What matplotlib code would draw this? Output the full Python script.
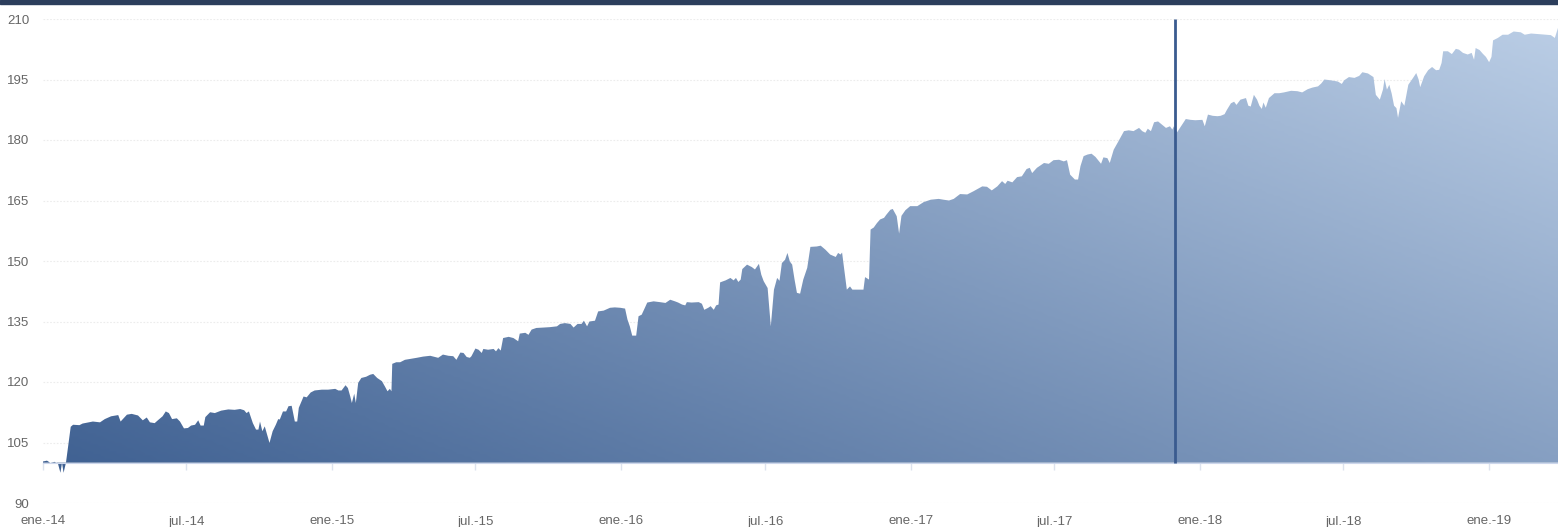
import numpy as np
import pandas as pd
import matplotlib
matplotlib.use('Agg')
import matplotlib.pyplot as plt
import matplotlib.dates as mdates
from matplotlib.colors import LinearSegmentedColormap
from matplotlib.patches import Rectangle

plt.rcParams['font.family'] = ['Liberation Sans', 'DejaVu Sans']

# Serie (fecha, valor base 100)
fechas = [
    # 2014
    '2014-01-01', '2014-01-06', '2014-01-10', '2014-01-16', '2014-01-20', '2014-01-23', '2014-01-25',
    '2014-01-27', '2014-01-30', '2014-02-05', '2014-02-08', '2014-02-16', '2014-02-20', '2014-03-05',
    '2014-03-14', '2014-03-20', '2014-03-28', '2014-04-06', '2014-04-09', '2014-04-17', '2014-04-23',
    '2014-05-01', '2014-05-07', '2014-05-12', '2014-05-16', '2014-05-22', '2014-05-26', '2014-06-01',
    '2014-06-05', '2014-06-09', '2014-06-13', '2014-06-19', '2014-06-23', '2014-06-28', '2014-07-03',
    '2014-07-07', '2014-07-12', '2014-07-16', '2014-07-19', '2014-07-23', '2014-07-25', '2014-07-31',
    '2014-08-06', '2014-08-14', '2014-08-23', '2014-08-31', '2014-09-07', '2014-09-12', '2014-09-15',
    '2014-09-18', '2014-09-23', '2014-09-27', '2014-09-30', '2014-10-02', '2014-10-05', '2014-10-08',
    '2014-10-14', '2014-10-18', '2014-10-22', '2014-10-25', '2014-10-27', '2014-10-31', '2014-11-04',
    '2014-11-07', '2014-11-11', '2014-11-15', '2014-11-18', '2014-11-20', '2014-11-26', '2014-11-30',
    '2014-12-05', '2014-12-10', '2014-12-19', '2014-12-27',
    # 2015
    '2015-01-05', '2015-01-09', '2015-01-13', '2015-01-18', '2015-01-21', '2015-01-24', '2015-01-26',
    '2015-01-29', '2015-01-31', '2015-02-03', '2015-02-07', '2015-02-13', '2015-02-18', '2015-02-22',
    '2015-02-27', '2015-03-05', '2015-03-09', '2015-03-12', '2015-03-15', '2015-03-17', '2015-03-18',
    '2015-03-23', '2015-03-28', '2015-04-03', '2015-04-09', '2015-04-18', '2015-04-26', '2015-05-05',
    '2015-05-11', '2015-05-15', '2015-05-21', '2015-05-28', '2015-06-03', '2015-06-07', '2015-06-12',
    '2015-06-16', '2015-06-20', '2015-06-24', '2015-06-26', '2015-07-01', '2015-07-05', '2015-07-09',
    '2015-07-11', '2015-07-17', '2015-07-24', '2015-07-27', '2015-07-30', '2015-08-02', '2015-08-05',
    '2015-08-12', '2015-08-18', '2015-08-24', '2015-08-26', '2015-09-02', '2015-09-06', '2015-09-10',
    '2015-09-16', '2015-09-25', '2015-10-03', '2015-10-12', '2015-10-16', '2015-10-22', '2015-10-29',
    '2015-11-02', '2015-11-07', '2015-11-12', '2015-11-15', '2015-11-19', '2015-11-22', '2015-11-29',
    '2015-12-03', '2015-12-10', '2015-12-18', '2015-12-24', '2015-12-31',
    # 2016
    '2016-01-06', '2016-01-09', '2016-01-12', '2016-01-15', '2016-01-20', '2016-01-23', '2016-01-27',
    '2016-01-31', '2016-02-03', '2016-02-11', '2016-02-19', '2016-02-26', '2016-03-03', '2016-03-09',
    '2016-03-13', '2016-03-18', '2016-03-22', '2016-03-24', '2016-03-30', '2016-04-08', '2016-04-12',
    '2016-04-15', '2016-04-20', '2016-04-23', '2016-04-27', '2016-04-30', '2016-05-03', '2016-05-05',
    '2016-05-12', '2016-05-18', '2016-05-22', '2016-05-25', '2016-05-28', '2016-05-31', '2016-06-02',
    '2016-06-08', '2016-06-14', '2016-06-18', '2016-06-23', '2016-06-26', '2016-06-29', '2016-07-04',
    '2016-07-08', '2016-07-12', '2016-07-16', '2016-07-19', '2016-07-22', '2016-07-26', '2016-07-29',
    '2016-08-01', '2016-08-04', '2016-08-07', '2016-08-10', '2016-08-14', '2016-08-18', '2016-08-23',
    '2016-08-27', '2016-09-04', '2016-09-09', '2016-09-15', '2016-09-21', '2016-09-28', '2016-10-01',
    '2016-10-04', '2016-10-06', '2016-10-12', '2016-10-16', '2016-10-19', '2016-11-02', '2016-11-04',
    '2016-11-09', '2016-11-11', '2016-11-15', '2016-11-19', '2016-11-23', '2016-11-28', '2016-12-01',
    '2016-12-06', '2016-12-09', '2016-12-14', '2016-12-17', '2016-12-20', '2016-12-25', '2016-12-31',
    # 2017
    '2017-01-09', '2017-01-17', '2017-01-26', '2017-02-05', '2017-02-11', '2017-02-18', '2017-02-24',
    '2017-03-04', '2017-03-13', '2017-03-21', '2017-04-01', '2017-04-07', '2017-04-13', '2017-04-20',
    '2017-04-26', '2017-04-30', '2017-05-03', '2017-05-09', '2017-05-15', '2017-05-21', '2017-05-27',
    '2017-05-31', '2017-06-03', '2017-06-09', '2017-06-18', '2017-06-24', '2017-06-30', '2017-07-07',
    '2017-07-13', '2017-07-17', '2017-07-21', '2017-07-27', '2017-07-31', '2017-08-03', '2017-08-07',
    '2017-08-12', '2017-08-17', '2017-08-22', '2017-08-29', '2017-09-01', '2017-09-06', '2017-09-09',
    '2017-09-14', '2017-09-20', '2017-09-27', '2017-10-03', '2017-10-09', '2017-10-16', '2017-10-20',
    '2017-10-24', '2017-10-27', '2017-10-31', '2017-11-04', '2017-11-09', '2017-11-14', '2017-11-19',
    '2017-11-24', '2017-11-27', '2017-11-29', '2017-12-03', '2017-12-08', '2017-12-14', '2017-12-20',
    '2017-12-26',
    # 2018
    '2018-01-04', '2018-01-07', '2018-01-11', '2018-01-17', '2018-01-23', '2018-01-27', '2018-02-01',
    '2018-02-04', '2018-02-09', '2018-02-13', '2018-02-16', '2018-02-21', '2018-02-28', '2018-03-03',
    '2018-03-06', '2018-03-10', '2018-03-14', '2018-03-17', '2018-03-20', '2018-03-22', '2018-03-25',
    '2018-03-29', '2018-04-05', '2018-04-11', '2018-04-17', '2018-04-26', '2018-05-04', '2018-05-10',
    '2018-05-17', '2018-05-23', '2018-05-30', '2018-06-03', '2018-06-07', '2018-06-15', '2018-06-24',
    '2018-06-29', '2018-07-02', '2018-07-08', '2018-07-15', '2018-07-21', '2018-07-25', '2018-08-01',
    '2018-08-08', '2018-08-11', '2018-08-16', '2018-08-20', '2018-08-22', '2018-08-25', '2018-08-28',
    '2018-08-31', '2018-09-03', '2018-09-06', '2018-09-08', '2018-09-12', '2018-09-16', '2018-09-21',
    '2018-09-27', '2018-10-01', '2018-10-04', '2018-10-06', '2018-10-11', '2018-10-16', '2018-10-21',
    '2018-10-26', '2018-10-30', '2018-11-02', '2018-11-04', '2018-11-10', '2018-11-15', '2018-11-20',
    '2018-11-24', '2018-11-29', '2018-12-05', '2018-12-10', '2018-12-13', '2018-12-15', '2018-12-20',
    '2018-12-24', '2018-12-28',
    # 2019
    '2019-01-01', '2019-01-04', '2019-01-06', '2019-01-12', '2019-01-18', '2019-01-25', '2019-02-01',
    '2019-02-10', '2019-02-15', '2019-02-23', '2019-03-08', '2019-03-20', '2019-03-25', '2019-03-29',
]

valores = [
    # 2014
    100.3, 100.5, 100.0, 100.2, 99.7, 97.5, 100.0,
    97.5, 100.0, 108.9, 109.4, 109.3, 109.7, 110.2,
    110.0, 110.8, 111.5, 111.8, 110.2, 111.9, 112.1,
    111.7, 110.5, 111.2, 110.0, 109.8, 110.5, 111.5,
    112.7, 112.3, 110.8, 111.0, 110.2, 108.5, 108.6,
    109.2, 109.4, 110.5, 109.2, 109.2, 111.3, 112.5,
    112.3, 112.9, 113.2, 113.1, 113.3, 113.0, 112.3,
    112.7, 109.8, 108.2, 108.2, 110.2, 107.8, 109.0,
    104.9, 107.8, 109.4, 110.8, 110.7, 112.7, 112.7,
    114.0, 114.1, 110.2, 110.2, 113.6, 116.4, 116.2,
    117.4, 117.9, 118.1, 118.1,
    # 2015
    118.3, 117.9, 117.9, 119.2, 118.5, 116.4, 114.8,
    117.1, 114.8, 119.8, 121.0, 121.3, 121.8, 122.0,
    121.0, 120.2, 118.8, 117.7, 118.3, 117.7, 124.5,
    124.9, 124.9, 125.5, 125.7, 126.0, 126.3, 126.5,
    126.2, 126.0, 126.8, 126.5, 126.4, 125.5, 127.3,
    127.2, 126.2, 126.0, 126.4, 128.3, 128.0, 127.2,
    128.2, 128.0, 128.2, 127.6, 128.4, 127.8, 130.9,
    131.2, 130.9, 130.1, 132.0, 132.2, 131.7, 133.0,
    133.4, 133.5, 133.6, 133.8, 134.4, 134.6, 134.4,
    133.5, 134.4, 134.4, 135.2, 133.8, 135.0, 135.2,
    137.5, 137.7, 138.4, 138.5, 138.4,
    # 2016
    138.2, 135.5, 133.8, 131.5, 131.5, 136.3, 136.7,
    138.4, 139.7, 140.0, 139.8, 139.6, 140.4, 140.0,
    139.7, 139.2, 139.0, 139.8, 139.7, 139.8, 139.4,
    137.9, 138.4, 138.8, 137.9, 139.0, 139.2, 144.7,
    145.2, 145.8, 145.2, 145.8, 144.8, 145.4, 148.0,
    149.1, 148.5, 147.9, 149.3, 146.6, 145.0, 143.3,
    133.8, 142.9, 145.8, 145.1, 149.5, 150.3, 152.0,
    149.9, 149.1, 145.4, 142.1, 141.9, 145.4, 148.3,
    153.5, 153.6, 153.8, 152.8, 151.6, 151.0, 152.0,
    151.6, 152.1, 142.9, 143.7, 142.9, 142.9, 146.0,
    145.4, 157.8, 158.3, 159.4, 160.3, 160.7, 161.5,
    162.7, 162.9, 161.1, 156.8, 161.2, 162.6, 163.6,
    # 2017
    163.6, 164.6, 165.2, 165.4, 165.2, 165.0, 165.4,
    166.6, 166.5, 167.3, 168.5, 168.4, 167.5, 168.5,
    169.8, 169.1, 169.9, 169.5, 170.8, 171.0, 172.8,
    173.1, 171.8, 173.1, 174.3, 174.1, 175.0, 175.1,
    174.7, 175.0, 171.4, 170.2, 170.2, 173.5, 176.0,
    176.4, 176.6, 175.8, 174.1, 175.7, 175.5, 174.3,
    177.6, 179.7, 182.2, 182.4, 182.2, 183.0, 182.2,
    181.8, 182.8, 182.2, 184.4, 184.6, 183.8, 183.0,
    183.4, 182.6, 183.4, 181.9, 183.4, 185.2, 185.0,
    184.9,
    # 2018
    185.0, 183.4, 186.3, 186.0, 185.9, 186.0, 186.4,
    187.5, 189.1, 189.5, 188.7, 190.0, 190.4, 188.5,
    188.3, 191.2, 190.0, 188.5, 187.7, 189.3, 188.0,
    190.4, 191.6, 191.6, 191.8, 192.2, 192.1, 191.8,
    192.6, 193.0, 193.3, 194.0, 195.0, 194.8, 194.5,
    193.9, 194.8, 195.6, 195.4, 195.9, 196.8, 196.5,
    195.6, 191.2, 190.0, 192.5, 195.1, 192.5, 193.7,
    191.5, 188.5, 187.9, 185.5, 189.6, 188.5, 193.7,
    195.4, 196.6, 195.0, 193.1, 195.8, 197.3, 198.1,
    197.3, 197.4, 199.1, 202.0, 202.0, 201.3, 202.6,
    202.4, 201.6, 201.2, 201.6, 199.9, 202.8, 202.3,
    201.4, 200.6,
    # 2019
    199.3, 200.6, 204.7, 205.3, 206.1, 206.1, 206.9,
    206.7, 206.1, 206.4, 206.2, 206.0, 205.3, 207.8,
]

fecha_marca = '2017-12-01'
base = 100

ticks_y = [90, 105, 120, 135, 150, 165, 180, 195, 210]
ticks_x = ['2014-01-01', '2014-07-01', '2015-01-01', '2015-07-01', '2016-01-01', '2016-07-01',
           '2017-01-01', '2017-07-01', '2018-01-01', '2018-07-01', '2019-01-01']
etiquetas_x = ['ene.-14', 'jul.-14', 'ene.-15', 'jul.-15', 'ene.-16', 'jul.-16',
               'ene.-17', 'jul.-17', 'ene.-18', 'jul.-18', 'ene.-19']

x = mdates.date2num(pd.to_datetime(fechas))
y = np.array(valores)
xt = mdates.date2num(pd.to_datetime(ticks_x))
xm = mdates.date2num(pd.to_datetime(fecha_marca))

fig = plt.figure(figsize=(15.58, 5.27), dpi=100)
ax = fig.add_axes([43 / 1558, 1 - 503 / 527, 1 - 43 / 1558, (503 - 19) / 527])

# barra superior
fig.patches.append(Rectangle((0, 1 - 4 / 527), 1, 4 / 527, transform=fig.transFigure,
                             color='#2c3e5c', zorder=10))

ax.set_xlim(x[0], x[-1])
ax.set_ylim(90, 210)

# relleno con degradado diagonal
cmap = LinearSegmentedColormap.from_list('azul', ['#3b5d8f', '#bbcee6'])
gx, gy = np.meshgrid(np.linspace(0, 1, 400), np.linspace(0, 1, 200))
grad = 0.55 * gx + 0.45 * gy
img = ax.imshow(grad, extent=[x[0], x[-1], 90, 210], origin='lower', aspect='auto',
                cmap=cmap, vmin=0, vmax=1, zorder=2, interpolation='bilinear')
poly = ax.fill_between(x, base, y, color='none', lw=0)
img.set_clip_path(poly.get_paths()[0], transform=ax.transData)

# linea vertical
ax.vlines(xm, base, 210, color='#3a5b8f', lw=2, zorder=4)

# rejilla
ax.set_yticks(ticks_y)
ax.yaxis.grid(True, color='#ececec', lw=0.8, linestyle=(0, (1.5, 1.5)), zorder=0)
ax.set_axisbelow(True)
ax.tick_params(axis='y', length=0, pad=10, labelsize=9.5, labelcolor='#666666')

for s in ['top', 'right', 'left']:
    ax.spines[s].set_visible(False)

# eje x en la linea base
ax.spines['bottom'].set_position(('data', base))
ax.spines['bottom'].set_color('#ccd6eb')
ax.spines['bottom'].set_zorder(3)
ax.set_xticks(xt)
ax.tick_params(axis='x', length=5, width=1, color='#dde3ee', labelbottom=False)

sec = ax.secondary_xaxis('bottom')
sec.set_xticks(xt)
sec.set_xticklabels(etiquetas_x)
sec.tick_params(axis='x', length=0, pad=9, labelsize=9.5, labelcolor='#666666')
sec.spines['bottom'].set_visible(False)

fig.savefig('out.png', dpi=100)
